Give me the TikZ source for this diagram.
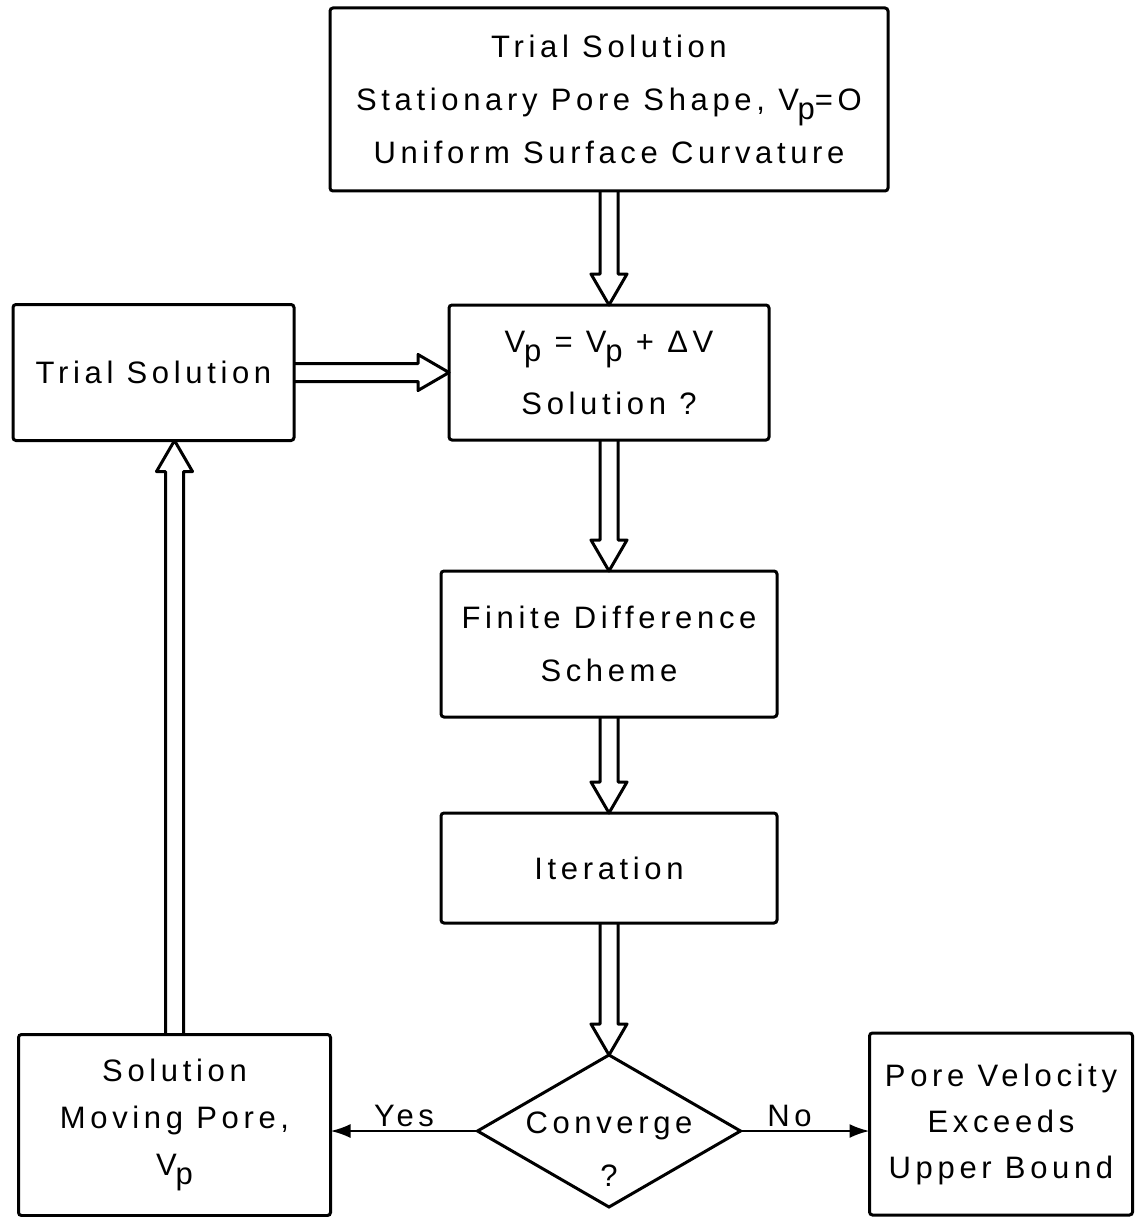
\documentclass[tikz,border=0pt]{standalone}
\usepackage{fontspec}
\setmainfont{Liberation Sans}[LetterSpace=15]
\usetikzlibrary{positioning,shapes.geometric,arrows.meta,calc}

\newcommand{\Vp}{V\kern-0.04em\raisebox{-0.55ex}{p}}
% open double-line arrow from #1 to #2
\newcommand{\hollowarrow}[2]{%
  \coordinate (ha) at (#1);
  \coordinate (hb) at (#2);
  \coordinate (hh) at ($(hb)!31pt!(ha)$);
  \draw[fat] ($(ha)!9pt!90:(hb)$) -- ($(hh)!9pt!90:(hb)$) -- ($(hh)!18pt!90:(hb)$) -- (hb)
    -- ($(hh)!18pt!-90:(hb)$) -- ($(hh)!9pt!-90:(hb)$) -- ($(ha)!9pt!-90:(hb)$);}

\begin{document}
\begin{tikzpicture}[x=1pt, y=-1pt, line width=3pt,
        every node/.style={font=\fontsize{31}{53}\selectfont},
        box/.style={draw, rounded corners=3pt, align=center, inner sep=0pt, outer sep=0pt},
        decision/.style={draw, diamond, aspect=1.73, minimum width=263pt,
            minimum height=152pt, inner sep=0pt, outer sep=0pt},
        fat/.style={line width=3pt, line join=round},
        thinarrow/.style={line width=2.5pt, -{Latex[length=20pt,width=14pt]}}]
    \useasboundingbox (0,0) rectangle (1146,1217);
    \node[box, minimum width=558pt, minimum height=183pt] (trial) at (609,99.5)
        {Trial Solution\\Stationary Pore Shape, \Vp=O\\Uniform Surface Curvature};
    \node[box, minimum width=320pt, minimum height=135pt, below=114pt of trial] (vel)
        {\Vp{} = \Vp{} + ΔV\\[9pt]Solution ?};
    \node[box, minimum width=336pt, minimum height=146pt, below=131pt of vel] (fdm)
        {Finite Difference\\Scheme};
    \node[box, minimum width=336pt, minimum height=110pt, below=96pt of fdm] (iter)
        {Iteration};
    \node[decision, below=132pt of iter] (conv) {};
    \node[align=center] (convtext) at ([yshift=-18pt]conv.center) {Converge\\?};
    \node[box, minimum width=281pt, minimum height=136pt, left=155pt of vel] (guess)
        {Trial Solution};
    \node[box, minimum width=312pt, minimum height=181pt, left=147pt of conv, yshift=6pt,
        font=\fontsize{31}{47}\selectfont] (moving) {Solution\\Moving Pore,\\\Vp};
    \node[box, minimum width=263pt, minimum height=182pt, right=129pt of conv, yshift=7pt,
        font=\fontsize{31}{46}\selectfont] (bound) {Pore Velocity\\Exceeds\\Upper Bound};

    \hollowarrow{trial.south}{vel.north}
    \hollowarrow{guess.east}{vel.west}
    \hollowarrow{vel.south}{fdm.north}
    \hollowarrow{fdm.south}{iter.north}
    \hollowarrow{iter.south}{conv.north}
    \hollowarrow{moving.north}{moving.north |- guess.south}

    \draw[thinarrow] (conv.west) -- (conv.west -| moving.east) node[midway, above] {Yes};
    \draw[thinarrow] (conv.east) -- (conv.east -| bound.west) node[pos=0.38, above] {No};
\end{tikzpicture}
\end{document}
